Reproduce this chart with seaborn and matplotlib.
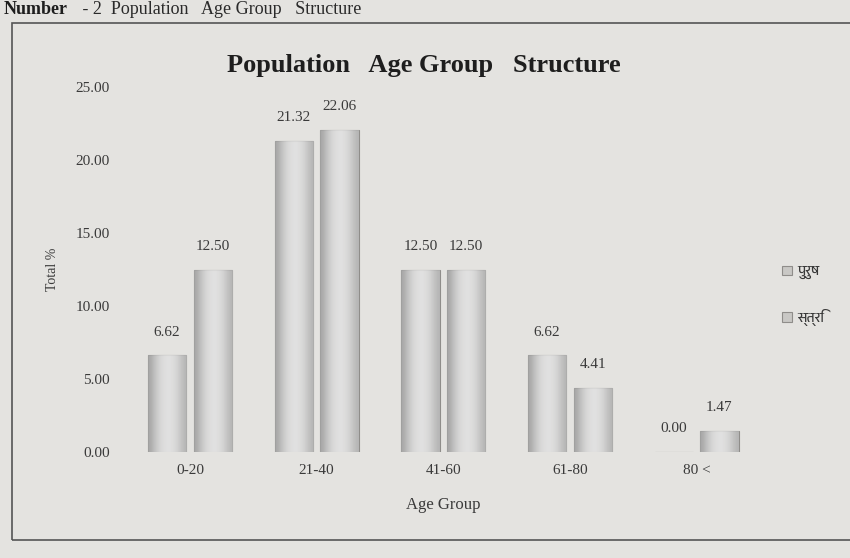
import matplotlib
matplotlib.use("Agg")
import matplotlib.pyplot as plt
from matplotlib import font_manager
import numpy as np
import pandas as pd
import seaborn as sns

# ── Data ──────────────────────────────────────────────────────────────────────
AGE_GROUPS = ["0-20", "21-40", "41-60", "61-80", "80 <"]
MALE   = [6.62, 21.32, 12.50, 6.62, 0.00]
FEMALE = [12.50, 22.06, 12.50, 4.41, 1.47]
SERIES = ["पुरुष", "स्त्रि"]
Y_TICKS = [0, 5, 10, 15, 20, 25]

BG   = "#e4e3e0"
BAR  = "#cac8c4"
EDGE = "#8f8d8a"
TXT  = "#3a3a3a"

# devanagari font if one is installed
deva = [f.name for f in font_manager.fontManager.ttflist
        if "devanagari" in f.name.lower() or "lohit" in f.name.lower()
        or "mukta" in f.name.lower() or "mangal" in f.name.lower()]
LEG_FAMILY = ([deva[0]] if deva else []) + ["Liberation Serif", "DejaVu Sans"]

sns.set_theme(style="white")
plt.rcParams["font.family"] = ["Liberation Serif", "DejaVu Serif"]

df = pd.DataFrame({
    "Age Group": AGE_GROUPS * 2,
    "Total %": MALE + FEMALE,
    "Sex": [SERIES[0]] * len(AGE_GROUPS) + [SERIES[1]] * len(AGE_GROUPS),
})

fig = plt.figure(figsize=(8.5, 5.58), dpi=100, facecolor=BG)
ax = fig.add_axes([0.149, 0.190, 0.745, 0.654], facecolor=BG)

sns.barplot(data=df, x="Age Group", y="Total %", hue="Sex", order=AGE_GROUPS,
            palette=[BAR, BAR], width=0.72, gap=0.16, edgecolor=EDGE,
            linewidth=0.8, ax=ax)

# soft cylinder shading on every bar
grad = np.array([[0.62, 0.78, 0.90, 0.95, 0.92, 0.82, 0.68]])
for p in ax.patches:
    if p.get_height() <= 0:
        continue
    x0, w, h = p.get_x(), p.get_width(), p.get_height()
    im = ax.imshow(grad, cmap="Greys_r", vmin=0.0, vmax=1.15, aspect="auto",
                   extent=[x0, x0 + w, 0, h], zorder=p.get_zorder() + 0.1,
                   interpolation="bicubic", alpha=0.85)
    im.set_clip_path(p)

for cont in ax.containers:
    ax.bar_label(cont, fmt="%.2f", padding=12, fontsize=11, color=TXT)

ax.set_xlim(-0.5, len(AGE_GROUPS) - 0.5)
ax.set_ylim(0, 25)
ax.set_yticks(Y_TICKS)
ax.set_yticklabels([f"{v:.2f}" for v in Y_TICKS], fontsize=11, color=TXT)
ax.tick_params(axis="x", labelsize=11, labelcolor=TXT, pad=9, length=0)
ax.tick_params(axis="y", pad=12, length=0)
ax.set_xlabel("Age Group", fontsize=12, color=TXT, labelpad=14)
ax.set_ylabel("Total %", fontsize=10, color=TXT, labelpad=12)
sns.despine(ax=ax, left=True, bottom=True)

ax.set_title("Population   Age Group   Structure", fontsize=19,
             fontweight="bold", color="#1e1e1e", pad=11, x=0.47)

handles, labels = ax.get_legend_handles_labels()
leg = ax.legend(handles, labels, loc="upper left", bbox_to_anchor=(1.015, 0.545),
                frameon=False, labelspacing=2.1, handlelength=0.7,
                handleheight=0.7, handletextpad=0.4,
                prop={"family": LEG_FAMILY, "size": 10})
for t in leg.get_texts():
    t.set_color(TXT)

# page header & frame from the printed report
fig.text(0.004, 0.999, "Number", fontsize=13, fontweight="bold", color="#1e1e1e",
         va="top", ha="left")
fig.text(0.092, 0.999, " - 2  Population   Age Group   Structure", fontsize=13,
         color="#2a2a2a", va="top", ha="left")
frame = plt.Rectangle((0.014, 0.033), 1.2, 0.926, transform=fig.transFigure,
                      fill=False, edgecolor="#555555", linewidth=1.2)
fig.add_artist(frame)

plt.savefig("out.png", dpi=100, facecolor=BG)
plt.close()
